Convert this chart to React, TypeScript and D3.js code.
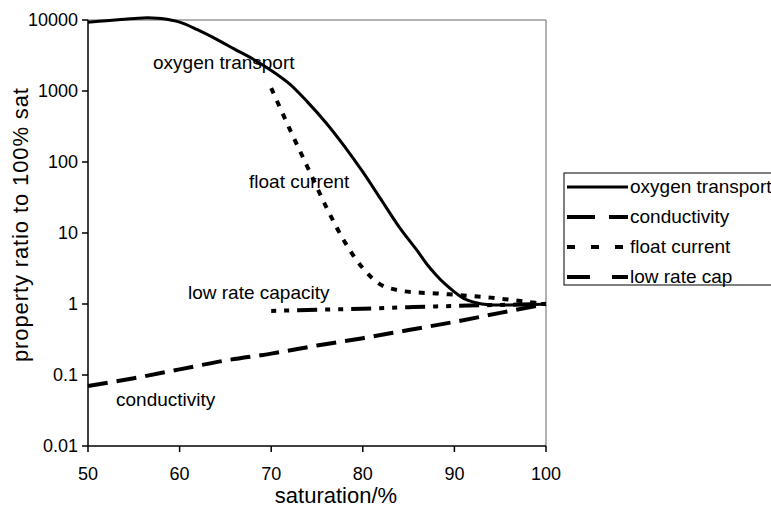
import React from "react";
import * as d3 from "d3";

const oxySat = [50, 52, 54, 56, 57, 58, 60, 62, 64, 66, 68, 70, 72, 74, 76, 78, 80, 82, 84, 86, 87, 88, 89, 90, 91, 92, 93, 94, 96, 98, 100];
const oxyVal = [9330, 9770, 10230, 10700, 10700, 10470, 9330, 7240, 5370, 3890, 2820, 1950, 1260, 692, 355, 166, 72.4, 29.5, 12.0, 5.5, 3.63, 2.57, 1.9, 1.48, 1.2, 1.07, 1.0, 0.97, 0.97, 0.98, 1];

const condSat = [50, 55, 60, 65, 70, 75, 80, 85, 90, 95, 100];
const condVal = [0.07, 0.09, 0.12, 0.16, 0.2, 0.26, 0.33, 0.43, 0.56, 0.75, 1];

const floatSat = [70, 72, 74, 76, 78, 80, 82, 84, 86, 88, 90, 92, 94, 96, 98, 100];
const floatVal = [1100, 295, 83, 23.4, 7.6, 3.2, 1.86, 1.55, 1.45, 1.41, 1.35, 1.29, 1.23, 1.15, 1.07, 1];

const lowSat = [70, 75, 80, 85, 90, 95, 100];
const lowVal = [0.8, 0.83, 0.86, 0.9, 0.94, 0.97, 1];

const xTicks = [50, 60, 70, 80, 90, 100];
const yTicks = [0.01, 0.1, 1, 10, 100, 1000, 10000];
const yTickLabels = ["0.01", "0.1", "1", "10", "100", "1000", "10000"];

const seriesNames = ["oxygen transport", "conductivity", "float current", "low rate cap"];

const FONT = "'Liberation Sans', Arial, Helvetica, sans-serif";

export default function App() {
  const x = d3.scaleLinear().domain([50, 100]).range([88, 546]);
  const y = d3.scaleLog().domain([0.01, 10000]).range([446, 20]);

  const mk = (s: number[], v: number[]) =>
    d3
      .line<number>()
      .x((_, i) => x(s[i]))
      .y((d) => y(d))
      .curve(d3.curveCatmullRom.alpha(0.5))(v) || "";

  const styles = [
    { w: 3, dash: "none" },
    { w: 4, dash: "20,9" },
    { w: 4, dash: "6,8" },
    { w: 4, dash: "5,8,5,8,20,8" },
  ];
  const paths = [mk(oxySat, oxyVal), mk(condSat, condVal), mk(floatSat, floatVal), mk(lowSat, lowVal)];
  const legendDash = ["none", "28,14", "8,16", "23,22"];

  return (
    <div style={{ position: "absolute", left: 0, top: 0 }}>
      <svg width={771} height={514} style={{ display: "block", background: "#fff" }} fontFamily={FONT}>
        <line x1={88} x2={546} y1={20} y2={20} stroke="#999" strokeWidth={1.5} />
        <line x1={546} x2={546} y1={20} y2={446} stroke="#999" strokeWidth={1.5} />
        <line x1={88} x2={88} y1={20} y2={446} stroke="#000" strokeWidth={1.5} />
        <line x1={88} x2={546} y1={446} y2={446} stroke="#000" strokeWidth={1.5} />

        {yTicks.map((t, i) => (
          <g key={"y" + i}>
            <line x1={82} x2={88} y1={y(t)} y2={y(t)} stroke="#000" strokeWidth={1.5} />
            <text x={78} y={y(t)} textAnchor="end" dominantBaseline="central" fontSize={18}>
              {yTickLabels[i]}
            </text>
          </g>
        ))}
        {xTicks.map((t, i) => (
          <g key={"x" + i}>
            <line x1={x(t)} x2={x(t)} y1={446} y2={452} stroke="#000" strokeWidth={1.5} />
            <text x={x(t)} y={480} textAnchor="middle" fontSize={18}>
              {t}
            </text>
          </g>
        ))}

        <text x={336} y={503} textAnchor="middle" fontSize={22}>
          saturation/%
        </text>
        <text
          transform="translate(28,225) rotate(-90)"
          textAnchor="middle"
          fontSize={22}
          textLength={274}
          lengthAdjust="spacing"
        >
          property ratio to 100% sat
        </text>

        {paths.map((p, i) => (
          <path
            key={"p" + i}
            d={p}
            fill="none"
            stroke="#000"
            strokeWidth={styles[i].w}
            strokeDasharray={styles[i].dash}
            strokeLinejoin="round"
          />
        ))}

        <text x={153} y={69} fontSize={19}>oxygen transport</text>
        <text x={249} y={188} fontSize={19}>float current</text>
        <text x={188} y={299} fontSize={19}>low rate capacity</text>
        <text x={116} y={406} fontSize={19}>conductivity</text>

        <rect x={564} y={173} width={220} height={112} fill="#fff" stroke="#000" strokeWidth={1} />
        {seriesNames.map((n, i) => {
          const ly = 187 + i * 30;
          return (
            <g key={"l" + i}>
              <line
                x1={567}
                x2={628}
                y1={ly}
                y2={ly}
                stroke="#000"
                strokeWidth={i === 0 ? 3 : 4}
                strokeDasharray={legendDash[i]}
              />
              <text x={630} y={ly + 6} fontSize={19}>
                {n}
              </text>
            </g>
          );
        })}
      </svg>
    </div>
  );
}
